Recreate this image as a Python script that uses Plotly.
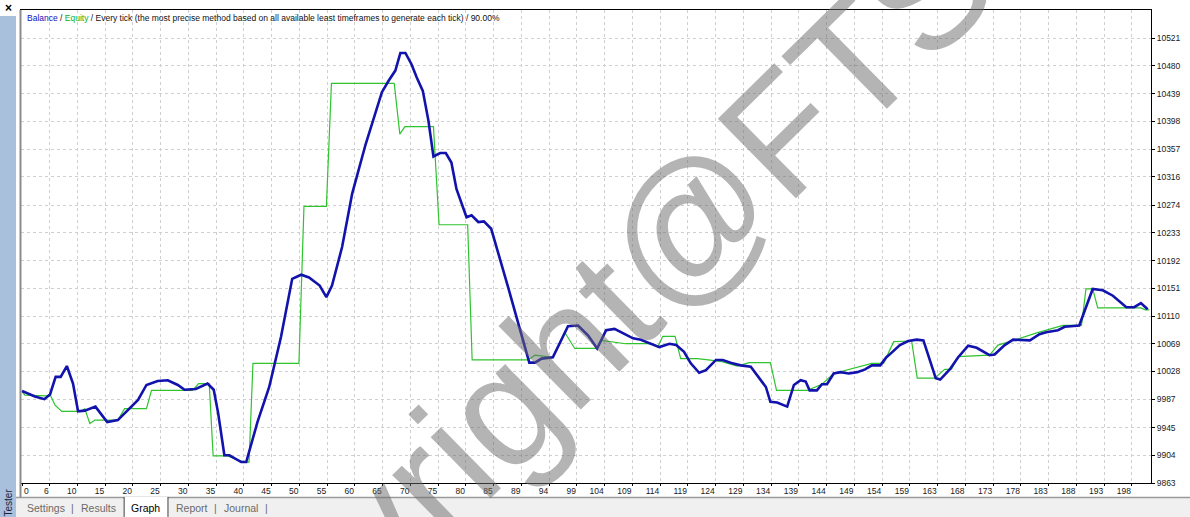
import plotly.graph_objects as go

# ---------------- data ----------------
balance_trade = [
    0, 2.3, 4.0, 5.0, 6.0, 6.9, 8.0, 9.1, 10.0, 11.2,
    13.1, 15.2, 17.1, 19.2, 20.7, 22.2, 24.2, 26.0, 27.8, 29.0,
    31.0, 33.1, 34.2, 35.0, 36.1, 37.0, 39.1, 40.0, 42.0, 44.1,
    46.2, 48.2, 49.8, 51.2, 53.1, 54.3, 55.3, 57.1, 58.9, 61.3,
    64.2, 65.4, 66.6, 67.5, 68.4, 69.5, 70.4, 71.5, 72.5, 73.4,
    74.6, 75.6, 76.6, 77.5, 79.3, 80.2, 81.4, 82.4, 83.7, 86.7,
    89.1, 90.5, 91.5, 92.7, 94.7, 96.2, 97.4, 99.2, 101.0, 102.6,
    104.2, 105.7, 107.5, 109.0, 110.4, 112.2, 113.7, 115.5, 116.7, 118.1,
    119.3, 120.8, 122.0, 123.8, 125.0, 126.4, 128.2, 130.0, 131.2, 132.7,
    133.5, 134.7, 136.5, 137.7, 138.9, 139.8, 140.5, 141.8, 142.7, 143.6,
    144.8, 146.0, 147.5, 149.0, 150.4, 151.6, 153.1, 154.2, 154.9, 156.6,
    158.1, 159.6, 160.8, 163.0, 163.8, 165.5, 167.0, 168.8, 170.3, 172.6,
    173.5, 175.3, 176.8, 178.6, 179.8, 181.5, 182.7, 184.8, 186.0, 188.6,
    191.0, 192.8, 194.6, 197.0, 198.4, 199.6, 200.8,
]
balance_value = [
    9999, 9991, 9987, 9994, 10020, 10020, 10036, 10010, 9969, 9970,
    9976, 9953, 9956, 9973, 9986, 10008, 10014, 10015, 10008, 10001,
    10002, 10010, 10001, 9966, 9904, 9904, 9894, 9894, 9953, 10005,
    10079, 10165, 10171, 10167, 10155, 10138, 10155, 10212, 10291, 10364,
    10441, 10458, 10473, 10499, 10499, 10482, 10463, 10443, 10399, 10346,
    10351, 10351, 10337, 10298, 10256, 10259, 10249, 10250, 10239, 10153,
    10084, 10041, 10041, 10047, 10049, 10074, 10095, 10096, 10081, 10062,
    10089, 10091, 10084, 10077, 10075, 10069, 10064, 10069, 10067, 10057,
    10040, 10026, 10030, 10045, 10045, 10041, 10037, 10035, 10022, 10005,
    9983, 9982, 9976, 10008, 10015, 10013, 10000, 10000, 10009, 10009,
    10025, 10027, 10025, 10027, 10031, 10037, 10037, 10049, 10054, 10067,
    10073, 10075, 10074, 10018, 10016, 10031, 10049, 10066, 10063, 10052,
    10053, 10067, 10075, 10075, 10074, 10083, 10086, 10089, 10094, 10096,
    10150, 10148, 10140, 10123, 10123, 10129, 10120,
]

equity_trade = [
    0, 0.5, 4.4, 5, 5.9, 7.1, 10.6, 11.2, 12.1, 13,
    17.1, 18.3, 22.2, 23.1, 30.4, 31.5, 33.4, 34.1, 36.7, 39.6,
    40.5, 41.2, 49.4, 50.3, 54.3, 55.2, 66.4, 67.4, 68.3, 73.4,
    74.4, 79.5, 80.3, 90.3, 91.5, 94.7, 96.8, 98.6, 102.6, 103.3,
    107.7, 112.5, 113.4, 114.3, 116.5, 117.5, 120.5, 124.7, 127.6, 129.7,
    133.5, 134.6, 140.1, 142.7, 144.8, 147.8, 151.6, 153.7, 155.5, 158.7,
    159.7, 162.8, 164.6, 165.8, 167, 172.6, 174.1, 176.2, 181, 185.7,
    189, 189.8, 191, 191.9, 199.6, 200.4, 201.1,
]
equity_value = [
    9999, 9993, 9992, 9994, 9978, 9969, 9969, 9973, 9951, 9956,
    9956, 9973, 9973, 10000, 10000, 10010, 10010, 9903, 9903, 9894,
    9894, 10040, 10040, 10272, 10272, 10454, 10454, 10379, 10390, 10390,
    10245, 10245, 10045, 10045, 10052, 10049, 10086, 10062, 10062, 10074,
    10069, 10069, 10064, 10080, 10080, 10047, 10047, 10043, 10036, 10041,
    10041, 10000, 10000, 10009, 10025, 10032, 10040, 10040, 10072, 10073,
    10018, 10018, 10031, 10031, 10050, 10052, 10067, 10072, 10085, 10096,
    10096, 10150, 10150, 10122, 10122, 10119, 10119,
]

y_tick_labels = [9863, 9904, 9945, 9987, 10028, 10069, 10110, 10151, 10192,
                 10233, 10274, 10316, 10357, 10398, 10439, 10480, 10521]
x_tick_labels = ["0", "6", "10", "15", "20", "25", "30", "35", "40", "45", "50",
                 "55", "60", "65", "70", "75", "80", "85", "89", "94", "99",
                 "104", "109", "114", "119", "124", "129", "134", "139", "144",
                 "149", "154", "159", "163", "168", "173", "178", "183", "188",
                 "193", "198"]
x_tick_step = 4.95

header = ('<span style="color:#1010c0">Balance</span> / '
          '<span style="color:#10b010">Equity</span> / Every tick (the most precise '
          'method based on all available least timeframes to generate each tick) / 90.00%')
tabs = [("Settings", 46, "#6a6a6a"), ("|", 73, "#6a6a6a"), ("Results", 99, "#6a6a6a"),
        ("Graph", 146, "#000000"), ("Report", 193, "#6a6a6a"), ("|", 216, "#6a6a6a"),
        ("Journal", 242, "#6a6a6a"), ("|", 267, "#6a6a6a")]
watermark = "Copyright@FTS"

assert len(balance_trade) == len(balance_value)
assert len(equity_trade) == len(equity_value)

# ---------------- layout geometry (pixels) ----------------
W, H = 1190, 517
L, R, T, B = 21, 1155, 9, 483


def px(x):
    return (x - L) / (R - L)


def py(y):
    return (B - y) / (B - T)


FONT = "Liberation Sans"

fig = go.Figure()
fig.add_trace(go.Scatter(x=equity_trade, y=equity_value, mode="lines",
                         line=dict(color="#2ec42e", width=1.2), name="Equity",
                         hoverinfo="skip"))
fig.add_trace(go.Scatter(x=balance_trade, y=balance_value, mode="lines",
                         line=dict(color="#1212ac", width=2.6), name="Balance",
                         hoverinfo="skip"))

tickvals_x = [k * x_tick_step for k in range(len(x_tick_labels))]
ticktext_x = [""] + x_tick_labels[1:]

fig.update_xaxes(range=[-0.178, 201.4], tickvals=tickvals_x, ticktext=ticktext_x,
                 showgrid=True, gridcolor="#cfcfcf", griddash="3px,3px", gridwidth=1,
                 ticks="outside", ticklen=2, tickcolor="#000", ticklabelposition="outside left",
                 showline=True, linecolor="#000", linewidth=1, mirror=True, zeroline=False,
                 tickfont=dict(family=FONT, size=8.5, color="#1a1a1a"), fixedrange=True)
fig.update_yaxes(side="right", range=[9863, 10562.6], tickvals=y_tick_labels,
                 ticktext=[str(v) for v in y_tick_labels],
                 showgrid=True, gridcolor="#cfcfcf", griddash="3px,3px", gridwidth=1,
                 ticks="outside", ticklen=3, tickcolor="#000",
                 showline=True, linecolor="#000", linewidth=1, mirror=True, zeroline=False,
                 tickfont=dict(family=FONT, size=8.5, color="#1a1a1a"), fixedrange=True)

shapes = [
    # bottom tab bar
    dict(type="rect", xref="paper", yref="paper", x0=px(16), x1=px(W + 5), y0=py(H + 5), y1=py(497),
         fillcolor="#f0f0f0", line=dict(width=0), layer="above"),
    dict(type="line", xref="paper", yref="paper", x0=px(16), x1=px(W + 5), y0=py(497.5), y1=py(497.5),
         line=dict(color="#9a9a9a", width=1.5), layer="above"),
    # selected "Graph" tab
    dict(type="rect", xref="paper", yref="paper", x0=px(124.5), x1=px(168.5), y0=py(H + 5), y1=py(497),
         fillcolor="#ffffff", line=dict(width=0), layer="above"),
    dict(type="line", xref="paper", yref="paper", x0=px(124.5), x1=px(124.5), y0=py(H), y1=py(497),
         line=dict(color="#404040", width=1), layer="above"),
    dict(type="line", xref="paper", yref="paper", x0=px(168.5), x1=px(168.5), y0=py(H), y1=py(497),
         line=dict(color="#404040", width=1), layer="above"),
    # left "Tester" strip
    dict(type="rect", xref="paper", yref="paper", x0=px(-5), x1=px(16), y0=py(H + 5), y1=py(15),
         fillcolor="#a9c0dc", line=dict(width=0), layer="above"),
    # left frame of chart window
    dict(type="line", xref="paper", yref="paper", x0=px(20.5), x1=px(20.5), y0=py(497), y1=py(9),
         line=dict(color="#8c8c8c", width=2), layer="above"),
]

annotations = [
    dict(xref="paper", yref="paper", x=px(25), y=py(17), xanchor="left", yanchor="middle",
         text=header, showarrow=False, font=dict(family=FONT, size=8.5, color="#111111")),
    dict(xref="paper", yref="paper", x=px(22.5), y=py(491), xanchor="left", yanchor="middle",
         text=x_tick_labels[0], showarrow=False, font=dict(family=FONT, size=8.5, color="#1a1a1a")),
    dict(xref="paper", yref="paper", x=px(8), y=py(7), xanchor="center", yanchor="middle",
         text="<b>×</b>", showarrow=False, font=dict(family=FONT, size=12, color="#000")),
    dict(xref="paper", yref="paper", x=px(8.5), y=py(503), xanchor="center", yanchor="middle",
         text="Tester", textangle=-90, showarrow=False,
         font=dict(family=FONT, size=10, color="#1c2440")),
]
for label, cx, col in tabs:
    annotations.append(dict(xref="paper", yref="paper", x=px(cx), y=py(508), xanchor="center",
                            yanchor="middle", text=label, showarrow=False,
                            font=dict(family=FONT, size=10.5, color=col)))
# watermark overlay
annotations.append(dict(xref="paper", yref="paper", x=px(552), y=py(360), xanchor="center",
                        yanchor="middle", text=watermark, textangle=-44.5, showarrow=False,
                        font=dict(family=FONT, size=162, color="rgba(105,105,105,0.5)")))

fig.update_layout(width=W, height=H, margin=dict(l=L, r=W - R, t=T, b=H - B),
                  paper_bgcolor="#ffffff", plot_bgcolor="#ffffff", showlegend=False,
                  shapes=shapes, annotations=annotations)

fig.write_html("out.html", config={"displayModeBar": False},
               post_script="document.body.style.margin='0px';")
